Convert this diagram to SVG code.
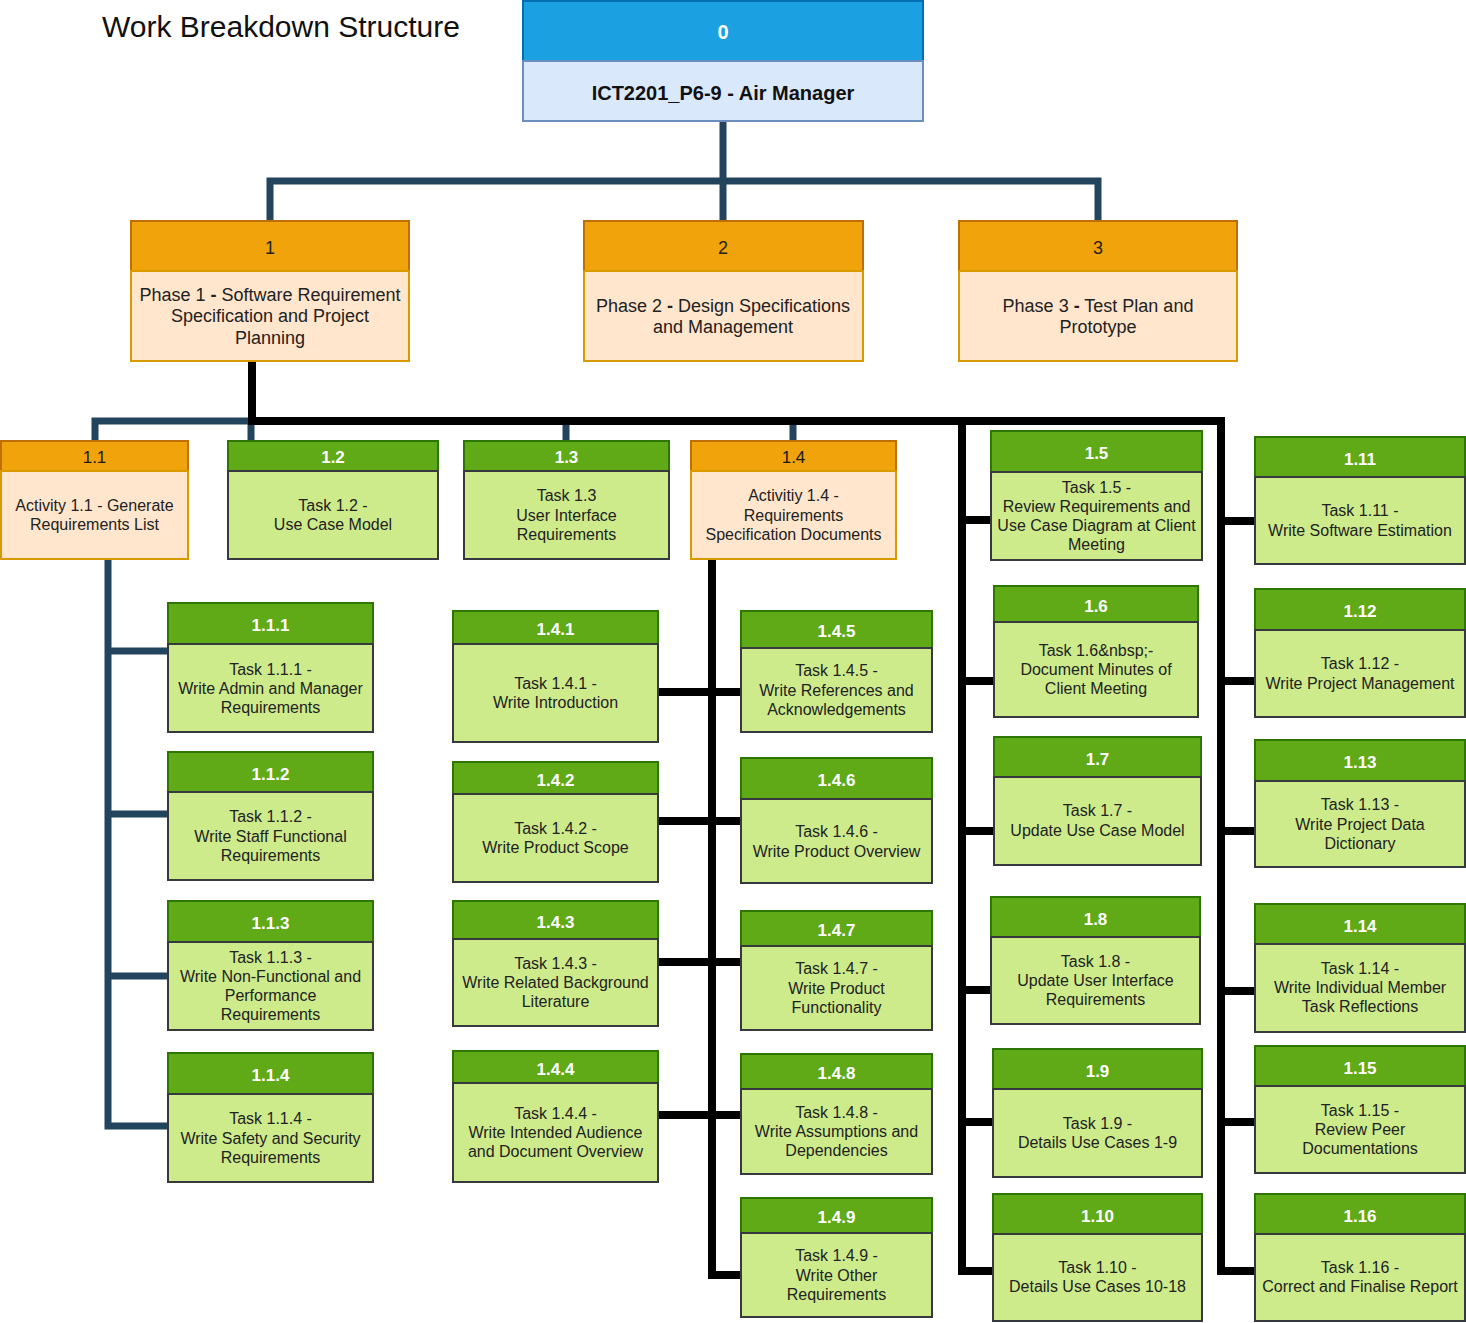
<svg xmlns="http://www.w3.org/2000/svg" width="1466" height="1323" viewBox="0 0 1466 1323">
<style>
text{font-family:"Liberation Sans",Arial,sans-serif;text-anchor:middle}
.gh{fill:#60a917;stroke:#2d7600;stroke-width:2}
.gb{fill:#cdeb8b;stroke:#36393d;stroke-width:2}
.oh{fill:#f0a30a;stroke:#bd7000;stroke-width:2}
.ob{fill:#ffe6cc;stroke:#d79b00;stroke-width:2}
.ht{font-size:17px;font-weight:bold;fill:#fff}
.oht{font-size:17px;fill:#1a1a1a}
.bt{font-size:16px;fill:#222}
.pt{font-size:18px;fill:#222}
.blue{fill:none;stroke:#23445d;stroke-width:7}
.blk{fill:none;stroke:#000;stroke-width:8}
</style>
<rect width="1466" height="1323" fill="#fff"/>
<text x="281" y="37" style="font-size:30px;fill:#111">Work Breakdown Structure</text>
<g id="connectors">
<path class="blue" d="M723,121V181H270V221M723,181V221M723,181H1098V221"/>
<path class="blue" d="M95,441V421H251V441M566,421V441M793,421V441"/>
<path class="blue" d="M108,559V1126H168M108,651H168M108,814H168M108,976H168"/>
<path class="blk" d="M252,361V421H1221V1271H1255M1221,521H1255M1221,681H1255M1221,831H1255M1221,991H1255M1221,1122H1255"/>
<path class="blk" d="M962,421V1271H993M962,520H991M962,681H994M962,831H994M962,990H991M962,1122H993"/>
<path class="blk" d="M712,559V1275H741M658,692H741M658,821H741M658,962H741M658,1115H741"/>
</g>
<g id="n0">
<rect x="523" y="1" width="400" height="60" fill="#1ba1e2" stroke="#006eaf" stroke-width="2"/>
<rect x="523" y="61" width="400" height="60" fill="#dae8fc" stroke="#6c8ebf" stroke-width="2"/>
<text x="723" y="39" style="font-size:20px;font-weight:bold;fill:#fff">0</text>
<text x="723" y="100" style="font-size:20px;font-weight:bold;fill:#111">ICT2201_P6-9 - Air Manager</text>
</g>
<g id="n1">
<rect class="oh" x="131" y="221" width="278" height="50"/><rect class="ob" x="131" y="271" width="278" height="90"/>
<text class="pt" x="270" y="254">1</text>
<text class="pt" x="270" y="300.7"><tspan x="270">Phase 1 <tspan font-weight="bold">-</tspan> Software Requirement</tspan><tspan x="270" dy="21.6">Specification and Project</tspan><tspan x="270" dy="21.6">Planning</tspan></text>
</g>
<g id="n2">
<rect class="oh" x="584" y="221" width="279" height="50"/><rect class="ob" x="584" y="271" width="279" height="90"/>
<text class="pt" x="723" y="254">2</text>
<text class="pt" x="723" y="311.5"><tspan x="723">Phase 2 <tspan font-weight="bold">-</tspan> Design Specifications</tspan><tspan x="723" dy="21.6">and Management</tspan></text>
</g>
<g id="n3">
<rect class="oh" x="959" y="221" width="278" height="50"/><rect class="ob" x="959" y="271" width="278" height="90"/>
<text class="pt" x="1098" y="254">3</text>
<text class="pt" x="1098" y="311.5"><tspan x="1098">Phase 3 <tspan font-weight="bold">-</tspan> Test Plan and</tspan><tspan x="1098" dy="21.6">Prototype</tspan></text>
</g>
<g id="n1-1">
<rect class="oh" x="1" y="441" width="187" height="30"/><rect class="ob" x="1" y="471" width="187" height="88"/>
<text class="oht" x="94.5" y="463">1.1</text>
<text class="bt" x="94.5" y="510.9"><tspan x="94.5">Activity 1.1 - Generate</tspan><tspan x="94.5" dy="19.2">Requirements List</tspan></text>
</g>
<g id="n1-2">
<rect class="gh" x="228" y="441" width="210" height="30"/><rect class="gb" x="228" y="471" width="210" height="88"/>
<text class="ht" x="333" y="463">1.2</text>
<text class="bt" x="333" y="510.9"><tspan x="333">Task 1.2 -</tspan><tspan x="333" dy="19.2">Use Case Model</tspan></text>
</g>
<g id="n1-3">
<rect class="gh" x="464" y="441" width="205" height="30"/><rect class="gb" x="464" y="471" width="205" height="88"/>
<text class="ht" x="566.5" y="463">1.3</text>
<text class="bt" x="566.5" y="501.3"><tspan x="566.5">Task 1.3</tspan><tspan x="566.5" dy="19.2">User Interface</tspan><tspan x="566.5" dy="19.2">Requirements</tspan></text>
</g>
<g id="n1-4">
<rect class="oh" x="691" y="441" width="205" height="30"/><rect class="ob" x="691" y="471" width="205" height="88"/>
<text class="oht" x="793.5" y="463">1.4</text>
<text class="bt" x="793.5" y="501.3"><tspan x="793.5">Activitiy 1.4 -</tspan><tspan x="793.5" dy="19.2">Requirements</tspan><tspan x="793.5" dy="19.2">Specification Documents</tspan></text>
</g>
<g id="n1-1-1">
<rect class="gh" x="168" y="603" width="205" height="41"/><rect class="gb" x="168" y="644" width="205" height="88"/>
<text class="ht" x="270.5" y="631">1.1.1</text>
<text class="bt" x="270.5" y="674.8"><tspan x="270.5">Task 1.1.1 -</tspan><tspan x="270.5" dy="19.2">Write Admin and Manager</tspan><tspan x="270.5" dy="19.2">Requirements</tspan></text>
</g>
<g id="n1-1-2">
<rect class="gh" x="168" y="752" width="205" height="40"/><rect class="gb" x="168" y="792" width="205" height="88"/>
<text class="ht" x="270.5" y="779.5">1.1.2</text>
<text class="bt" x="270.5" y="822.3"><tspan x="270.5">Task 1.1.2 -</tspan><tspan x="270.5" dy="19.2">Write Staff Functional</tspan><tspan x="270.5" dy="19.2">Requirements</tspan></text>
</g>
<g id="n1-1-3">
<rect class="gh" x="168" y="901" width="205" height="41"/><rect class="gb" x="168" y="942" width="205" height="88"/>
<text class="ht" x="270.5" y="929">1.1.3</text>
<text class="bt" x="270.5" y="962.7"><tspan x="270.5">Task 1.1.3 -</tspan><tspan x="270.5" dy="19.2">Write Non-Functional and</tspan><tspan x="270.5" dy="19.2">Performance</tspan><tspan x="270.5" dy="19.2">Requirements</tspan></text>
</g>
<g id="n1-1-4">
<rect class="gh" x="168" y="1053" width="205" height="41"/><rect class="gb" x="168" y="1094" width="205" height="88"/>
<text class="ht" x="270.5" y="1081">1.1.4</text>
<text class="bt" x="270.5" y="1124.3"><tspan x="270.5">Task 1.1.4 -</tspan><tspan x="270.5" dy="19.2">Write Safety and Security</tspan><tspan x="270.5" dy="19.2">Requirements</tspan></text>
</g>
<g id="n1-4-1">
<rect class="gh" x="453" y="611" width="205" height="33"/><rect class="gb" x="453" y="644" width="205" height="98"/>
<text class="ht" x="555.5" y="635">1.4.1</text>
<text class="bt" x="555.5" y="688.9"><tspan x="555.5">Task 1.4.1 -</tspan><tspan x="555.5" dy="19.2">Write Introduction</tspan></text>
</g>
<g id="n1-4-2">
<rect class="gh" x="453" y="762" width="205" height="32"/><rect class="gb" x="453" y="794" width="205" height="88"/>
<text class="ht" x="555.5" y="785.5">1.4.2</text>
<text class="bt" x="555.5" y="833.9"><tspan x="555.5">Task 1.4.2 -</tspan><tspan x="555.5" dy="19.2">Write Product Scope</tspan></text>
</g>
<g id="n1-4-3">
<rect class="gh" x="453" y="901" width="205" height="38"/><rect class="gb" x="453" y="939" width="205" height="87"/>
<text class="ht" x="555.5" y="927.5">1.4.3</text>
<text class="bt" x="555.5" y="968.8"><tspan x="555.5">Task 1.4.3 -</tspan><tspan x="555.5" dy="19.2">Write Related Background</tspan><tspan x="555.5" dy="19.2">Literature</tspan></text>
</g>
<g id="n1-4-4">
<rect class="gh" x="453" y="1051" width="205" height="32"/><rect class="gb" x="453" y="1083" width="205" height="99"/>
<text class="ht" x="555.5" y="1074.5">1.4.4</text>
<text class="bt" x="555.5" y="1118.8"><tspan x="555.5">Task 1.4.4 -</tspan><tspan x="555.5" dy="19.2">Write Intended Audience</tspan><tspan x="555.5" dy="19.2">and Document Overview</tspan></text>
</g>
<g id="n1-4-5">
<rect class="gh" x="741" y="611" width="191" height="37"/><rect class="gb" x="741" y="648" width="191" height="84"/>
<text class="ht" x="836.5" y="637">1.4.5</text>
<text class="bt" x="836.5" y="676.3"><tspan x="836.5">Task 1.4.5 -</tspan><tspan x="836.5" dy="19.2">Write References and</tspan><tspan x="836.5" dy="19.2">Acknowledgements</tspan></text>
</g>
<g id="n1-4-6">
<rect class="gh" x="741" y="758" width="191" height="41"/><rect class="gb" x="741" y="799" width="191" height="84"/>
<text class="ht" x="836.5" y="786">1.4.6</text>
<text class="bt" x="836.5" y="837.4"><tspan x="836.5">Task 1.4.6 -</tspan><tspan x="836.5" dy="19.2">Write Product Overview</tspan></text>
</g>
<g id="n1-4-7">
<rect class="gh" x="741" y="911" width="191" height="35"/><rect class="gb" x="741" y="946" width="191" height="84"/>
<text class="ht" x="836.5" y="936">1.4.7</text>
<text class="bt" x="836.5" y="974.3"><tspan x="836.5">Task 1.4.7 -</tspan><tspan x="836.5" dy="19.2">Write Product</tspan><tspan x="836.5" dy="19.2">Functionality</tspan></text>
</g>
<g id="n1-4-8">
<rect class="gh" x="741" y="1054" width="191" height="35"/><rect class="gb" x="741" y="1089" width="191" height="85"/>
<text class="ht" x="836.5" y="1079">1.4.8</text>
<text class="bt" x="836.5" y="1117.8"><tspan x="836.5">Task 1.4.8 -</tspan><tspan x="836.5" dy="19.2">Write Assumptions and</tspan><tspan x="836.5" dy="19.2">Dependencies</tspan></text>
</g>
<g id="n1-4-9">
<rect class="gh" x="741" y="1198" width="191" height="35"/><rect class="gb" x="741" y="1233" width="191" height="84"/>
<text class="ht" x="836.5" y="1223">1.4.9</text>
<text class="bt" x="836.5" y="1261.3"><tspan x="836.5">Task 1.4.9 -</tspan><tspan x="836.5" dy="19.2">Write Other</tspan><tspan x="836.5" dy="19.2">Requirements</tspan></text>
</g>
<g id="n1-5">
<rect class="gh" x="991" y="431" width="211" height="41"/><rect class="gb" x="991" y="472" width="211" height="88"/>
<text class="ht" x="1096.5" y="459">1.5</text>
<text class="bt" x="1096.5" y="492.7"><tspan x="1096.5">Task 1.5 -</tspan><tspan x="1096.5" dy="19.2">Review Requirements and</tspan><tspan x="1096.5" dy="19.2">Use Case Diagram at Client</tspan><tspan x="1096.5" dy="19.2">Meeting</tspan></text>
</g>
<g id="n1-6">
<rect class="gh" x="994" y="586" width="204" height="36"/><rect class="gb" x="994" y="622" width="204" height="95"/>
<text class="ht" x="1096" y="611.5">1.6</text>
<text class="bt" x="1096" y="655.8"><tspan x="1096">Task 1.6&amp;nbsp;-</tspan><tspan x="1096" dy="19.2">Document Minutes of</tspan><tspan x="1096" dy="19.2">Client Meeting</tspan></text>
</g>
<g id="n1-7">
<rect class="gh" x="994" y="737" width="207" height="40"/><rect class="gb" x="994" y="777" width="207" height="88"/>
<text class="ht" x="1097.5" y="764.5">1.7</text>
<text class="bt" x="1097.5" y="816.4"><tspan x="1097.5">Task 1.7 -</tspan><tspan x="1097.5" dy="19.2">Update Use Case Model</tspan></text>
</g>
<g id="n1-8">
<rect class="gh" x="991" y="897" width="209" height="40"/><rect class="gb" x="991" y="937" width="209" height="87"/>
<text class="ht" x="1095.5" y="924.5">1.8</text>
<text class="bt" x="1095.5" y="966.8"><tspan x="1095.5">Task 1.8 -</tspan><tspan x="1095.5" dy="19.2">Update User Interface</tspan><tspan x="1095.5" dy="19.2">Requirements</tspan></text>
</g>
<g id="n1-9">
<rect class="gh" x="993" y="1049" width="209" height="40"/><rect class="gb" x="993" y="1089" width="209" height="88"/>
<text class="ht" x="1097.5" y="1076.5">1.9</text>
<text class="bt" x="1097.5" y="1128.9"><tspan x="1097.5">Task 1.9 -</tspan><tspan x="1097.5" dy="19.2">Details Use Cases 1-9</tspan></text>
</g>
<g id="n1-10">
<rect class="gh" x="993" y="1194" width="209" height="40"/><rect class="gb" x="993" y="1234" width="209" height="87"/>
<text class="ht" x="1097.5" y="1221.5">1.10</text>
<text class="bt" x="1097.5" y="1273.2"><tspan x="1097.5">Task 1.10 -</tspan><tspan x="1097.5" dy="19.2">Details Use Cases 10-18</tspan></text>
</g>
<g id="n1-11">
<rect class="gh" x="1255" y="437" width="210" height="40"/><rect class="gb" x="1255" y="477" width="210" height="87"/>
<text class="ht" x="1360" y="464.5">1.11</text>
<text class="bt" x="1360" y="516.4"><tspan x="1360">Task 1.11 -</tspan><tspan x="1360" dy="19.2">Write Software Estimation</tspan></text>
</g>
<g id="n1-12">
<rect class="gh" x="1255" y="589" width="210" height="41"/><rect class="gb" x="1255" y="630" width="210" height="87"/>
<text class="ht" x="1360" y="617">1.12</text>
<text class="bt" x="1360" y="669.4"><tspan x="1360">Task 1.12 -</tspan><tspan x="1360" dy="19.2">Write Project Management</tspan></text>
</g>
<g id="n1-13">
<rect class="gh" x="1255" y="740" width="210" height="41"/><rect class="gb" x="1255" y="781" width="210" height="86"/>
<text class="ht" x="1360" y="768">1.13</text>
<text class="bt" x="1360" y="810.3"><tspan x="1360">Task 1.13 -</tspan><tspan x="1360" dy="19.2">Write Project Data</tspan><tspan x="1360" dy="19.2">Dictionary</tspan></text>
</g>
<g id="n1-14">
<rect class="gh" x="1255" y="904" width="210" height="40"/><rect class="gb" x="1255" y="944" width="210" height="88"/>
<text class="ht" x="1360" y="931.5">1.14</text>
<text class="bt" x="1360" y="973.6"><tspan x="1360">Task 1.14 -</tspan><tspan x="1360" dy="19.2">Write Individual Member</tspan><tspan x="1360" dy="19.2">Task Reflections</tspan></text>
</g>
<g id="n1-15">
<rect class="gh" x="1255" y="1046" width="210" height="40"/><rect class="gb" x="1255" y="1086" width="210" height="87"/>
<text class="ht" x="1360" y="1073.5">1.15</text>
<text class="bt" x="1360" y="1115.8"><tspan x="1360">Task 1.15 -</tspan><tspan x="1360" dy="19.2">Review Peer</tspan><tspan x="1360" dy="19.2">Documentations</tspan></text>
</g>
<g id="n1-16">
<rect class="gh" x="1255" y="1194" width="210" height="40"/><rect class="gb" x="1255" y="1234" width="210" height="87"/>
<text class="ht" x="1360" y="1221.5">1.16</text>
<text class="bt" x="1360" y="1273.2"><tspan x="1360">Task 1.16 -</tspan><tspan x="1360" dy="19.2">Correct and Finalise Report</tspan></text>
</g>
</svg>
